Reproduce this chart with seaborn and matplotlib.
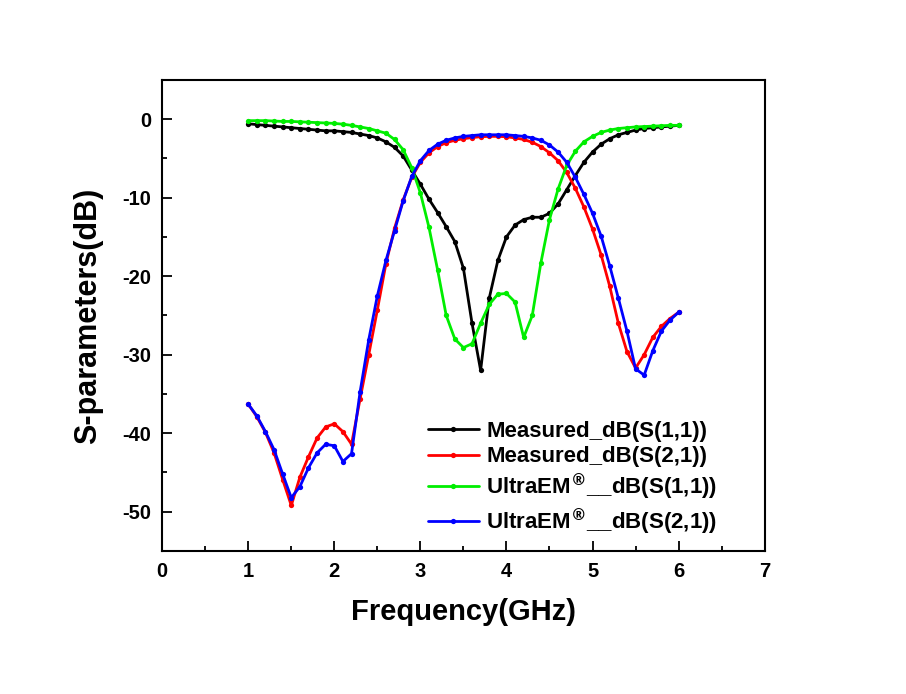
import numpy as np
import pandas as pd
import matplotlib
matplotlib.use("Agg")
import matplotlib.pyplot as plt
import seaborn as sns

freq = [round(1.0 + 0.1 * i, 1) for i in range(51)]

meas_s11 = [-0.6, -0.7, -0.8, -0.9, -1.0, -1.1, -1.2, -1.3, -1.4, -1.5,
            -1.5, -1.6, -1.7, -1.9, -2.1, -2.4, -2.9, -3.6, -4.7, -6.5,
            -8.3, -10.2, -11.9, -13.7, -15.6, -19.0, -26.0, -32.0, -22.8, -18.0,
            -15.0, -13.5, -12.8, -12.5, -12.5, -12.0, -10.8, -9.0, -7.2, -5.5,
            -4.2, -3.2, -2.5, -2.0, -1.7, -1.4, -1.2, -1.1, -1.0, -0.9, -0.8]

meas_s21 = [-36.3, -37.9, -39.9, -42.5, -45.9, -49.2, -45.6, -43.0, -40.6, -39.2,
            -38.8, -39.8, -41.4, -35.6, -30.0, -24.3, -18.4, -13.9, -10.3, -7.4,
            -5.5, -4.3, -3.5, -3.0, -2.7, -2.5, -2.35, -2.25, -2.2, -2.2,
            -2.25, -2.4, -2.6, -2.95, -3.5, -4.3, -5.3, -6.8, -8.8, -11.2,
            -14.0, -17.3, -21.3, -26.0, -29.6, -31.7, -30.0, -27.8, -26.4, -25.4, -24.6]

sim_s11 = [-0.2, -0.2, -0.2, -0.25, -0.3, -0.3, -0.35, -0.4, -0.45, -0.5,
           -0.55, -0.65, -0.8, -1.0, -1.2, -1.5, -1.8, -2.6, -3.9, -6.2,
           -9.4, -13.8, -19.2, -25.0, -28.0, -29.1, -28.6, -26.0, -23.6, -22.3,
           -22.2, -23.3, -27.8, -25.0, -18.3, -12.8, -8.9, -5.9, -4.1, -2.9,
           -2.2, -1.7, -1.4, -1.2, -1.1, -1.0, -0.95, -0.9, -0.85, -0.8, -0.8]

sim_s21 = [-36.3, -37.8, -39.8, -42.1, -45.2, -48.2, -46.8, -44.4, -42.5, -41.4,
           -41.6, -43.6, -42.6, -34.7, -28.1, -22.5, -18.0, -14.2, -10.4, -7.3,
           -5.3, -4.0, -3.2, -2.7, -2.4, -2.2, -2.1, -2.0, -2.0, -2.0,
           -2.0, -2.1, -2.2, -2.4, -2.7, -3.3, -4.2, -5.5, -7.4, -9.6,
           -12.0, -14.9, -18.7, -22.8, -27.0, -31.8, -32.6, -29.5, -27.0, -25.6, -24.6]

labels = ["Measured_dB(S(1,1))", "Measured_dB(S(2,1))",
          r"UltraEM$^{\circledR}$__dB(S(1,1))", r"UltraEM$^{\circledR}$__dB(S(2,1))"]
colors = ["black", "#ff0000", "#00ee00", "#0000ff"]
series = [meas_s11, meas_s21, sim_s11, sim_s21]

sns.set_style("ticks")
plt.rcParams['font.family'] = ['Liberation Sans', 'DejaVu Sans']
plt.rcParams['font.weight'] = 'bold'
plt.rcParams['mathtext.default'] = 'bf'
plt.rcParams['axes.unicode_minus'] = False
plt.rcParams['text.color'] = 'black'
plt.rcParams['axes.labelcolor'] = 'black'
plt.rcParams['xtick.color'] = 'black'
plt.rcParams['ytick.color'] = 'black'

fig = plt.figure(figsize=(9.06, 6.94), dpi=100)
ax = fig.add_axes([0.179, 0.206, 0.665, 0.679])

for vals, lab, col in zip(series, labels, colors):
    df = pd.DataFrame({'freq': freq, 'db': vals})
    sns.lineplot(data=df, x='freq', y='db', ax=ax, color=col, label=lab,
                 linewidth=2.0, marker='o', markersize=3.8, markeredgewidth=0)

ax.set_xlim(0, 7)
ax.set_ylim(-55, 5)
ax.set_xticks(range(0, 8))
ax.set_yticks([-50, -40, -30, -20, -10, 0])
ax.set_xticks(np.arange(0.5, 7, 1), minor=True)
ax.set_yticks(np.arange(-55, 5, 10), minor=True)
ax.tick_params(which='both', direction='in', top=False, right=False, width=1.3)
ax.tick_params(which='major', length=7, labelsize=14.5, pad=8)
ax.tick_params(which='minor', length=3.6)
for s in ax.spines.values():
    s.set_linewidth(1.5)
    s.set_color('black')

ax.set_xlabel("Frequency(GHz)", fontsize=21, fontweight='bold', labelpad=12)
ax.set_ylabel("S-parameters(dB)", fontsize=22, fontweight='bold', labelpad=14)

leg = ax.legend(loc='lower right', bbox_to_anchor=(0.955, -0.012), frameon=False,
                fontsize=16, handlelength=2.3, labelspacing=0.2, handletextpad=0.35)

fig.savefig("out.png", dpi=100)
